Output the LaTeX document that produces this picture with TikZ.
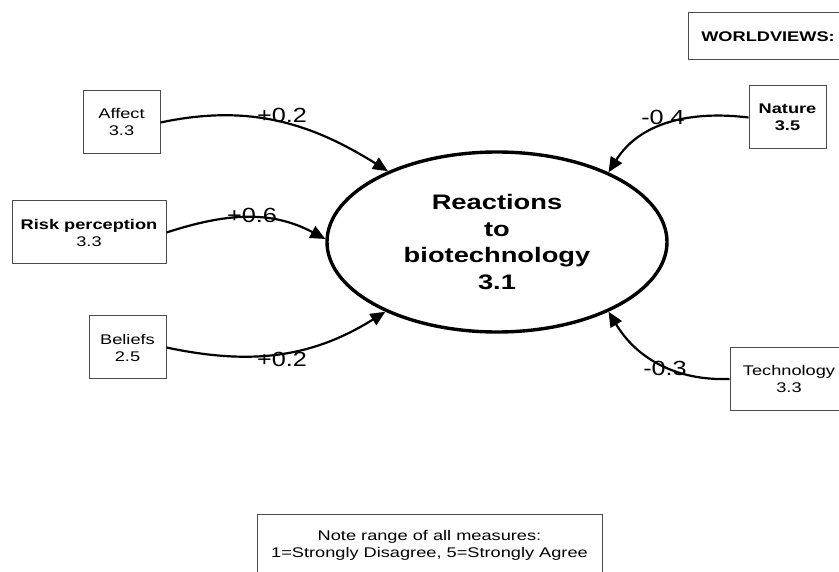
\documentclass[tikz,border=0pt]{standalone}
\usepackage{fontspec}
\setmainfont{Liberation Sans}[FakeStretch=1.3]
\newfontfamily\labfont{Liberation Sans}[FakeStretch=1.23]
\usetikzlibrary{arrows.meta,shapes.geometric}
\tikzset{
  box/.style={draw=black!70,line width=1pt,rectangle,align=center,inner sep=0pt,
    font=\fontsize{14}{17}\selectfont,minimum height=63pt},
  effect/.style={line width=2.2pt,-{Triangle[length=15pt,width=13pt]}},
  coef/.style={inner sep=0pt,font=\labfont\fontsize{20.5}{24}\selectfont}
}
\begin{document}
\begin{tikzpicture}[x=1pt,y=-1pt]
\useasboundingbox (0,0) rectangle (839,572);
\fill[white] (0,0) rectangle (839,572);
% worldviews header
\node[box,minimum width=160pt,minimum height=47pt,font=\fontsize{14}{17}\selectfont\bfseries] (wv) at (768,36.5) {WORLDVIEWS:};
% predictor boxes
\node[box,minimum width=77pt] (affect) at (121.5,122.5) {Affect\\3.3};
\node[box,minimum width=154pt] (risk) at (89,232.5) {\textbf{Risk perception}\\3.3};
\node[box,minimum width=77pt] (beliefs) at (127.5,347.5) {Beliefs\\2.5};
\node[box,minimum width=77pt] (nature) at (787.5,117.5) {\textbf{Nature}\\\textbf{3.5}};
\node[box,minimum width=118pt,minimum height=62pt] (tech) at (789,379) {Technology\\3.3};
% outcome
\node[ellipse,draw,line width=3.4pt,minimum width=340pt,minimum height=180pt,inner sep=0pt,
  align=center,font=\fontsize{21}{26.7}\selectfont\bfseries] (react) at (497,242)
  {Reactions\\to\\biotechnology\\3.1};
% note
\node[box,minimum width=345pt,minimum height=62pt] (note) at (429.5,545)
  {Note range of all measures:\\1=Strongly Disagree, 5=Strongly Agree};
% connectors
\draw[effect] (affect.east) to[out=12,in=148] (react.147.7);
\draw[effect] (risk.east) to[out=18,in=152] (react.179);
\draw[effect] (beliefs.east) to[out=-12,in=-148] (react.212);
\draw[effect] (nature.west) to[out=173,in=58] (react.32.5);
\draw[effect] (tech.west) to[out=182,in=-59] (react.328);
% coefficients
\node[coef] (c1) at (282,115.5) {+0.2};
\node[coef] (c2) at (252,215) {+0.6};
\node[coef] (c3) at (282,359) {+0.2};
\node[coef] (c4) at (663,117) {-0.4};
\node[coef] (c5) at (665,368) {-0.3};
\end{tikzpicture}
\end{document}
